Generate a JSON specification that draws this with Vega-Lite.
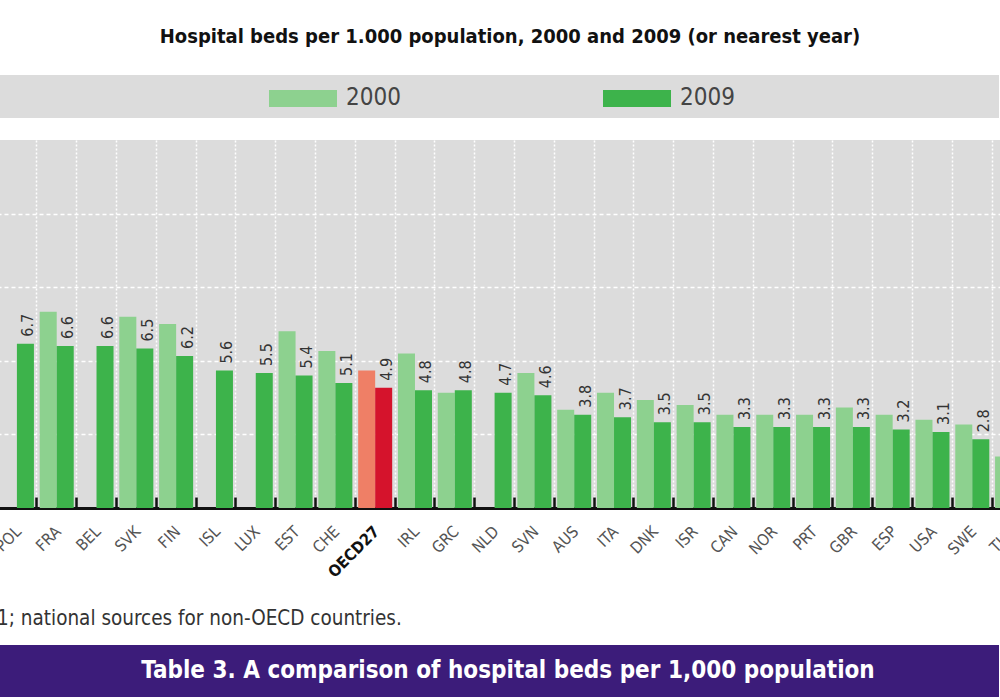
{
  "$schema": "https://vega.github.io/schema/vega-lite/v6.json",
  "autosize": {"type": "pad"},
  "padding": {"left": -8, "top": 27, "right": 0, "bottom": 0},
  "background": "white",
  "bounds": "flush",
  "spacing": 570,
  "datasets": {
    "beds": [
      {"country": "POL", "year": "2009", "series": "2009", "value": 6.7},
      {"country": "FRA", "year": "2000", "series": "2000", "value": 8.0},
      {"country": "FRA", "year": "2009", "series": "2009", "value": 6.6},
      {"country": "BEL", "year": "2009", "series": "2009", "value": 6.6},
      {"country": "SVK", "year": "2000", "series": "2000", "value": 7.8},
      {"country": "SVK", "year": "2009", "series": "2009", "value": 6.5},
      {"country": "FIN", "year": "2000", "series": "2000", "value": 7.5},
      {"country": "FIN", "year": "2009", "series": "2009", "value": 6.2},
      {"country": "ISL", "year": "2009", "series": "2009", "value": 5.6},
      {"country": "LUX", "year": "2009", "series": "2009", "value": 5.5},
      {"country": "EST", "year": "2000", "series": "2000", "value": 7.2},
      {"country": "EST", "year": "2009", "series": "2009", "value": 5.4},
      {"country": "CHE", "year": "2000", "series": "2000", "value": 6.4},
      {"country": "CHE", "year": "2009", "series": "2009", "value": 5.1},
      {"country": "OECD27", "year": "2000", "series": "OECD 2000", "value": 5.6},
      {"country": "OECD27", "year": "2009", "series": "OECD 2009", "value": 4.9},
      {"country": "IRL", "year": "2000", "series": "2000", "value": 6.3},
      {"country": "IRL", "year": "2009", "series": "2009", "value": 4.8},
      {"country": "GRC", "year": "2000", "series": "2000", "value": 4.7},
      {"country": "GRC", "year": "2009", "series": "2009", "value": 4.8},
      {"country": "NLD", "year": "2009", "series": "2009", "value": 4.7},
      {"country": "SVN", "year": "2000", "series": "2000", "value": 5.5},
      {"country": "SVN", "year": "2009", "series": "2009", "value": 4.6},
      {"country": "AUS", "year": "2000", "series": "2000", "value": 4.0},
      {"country": "AUS", "year": "2009", "series": "2009", "value": 3.8},
      {"country": "ITA", "year": "2000", "series": "2000", "value": 4.7},
      {"country": "ITA", "year": "2009", "series": "2009", "value": 3.7},
      {"country": "DNK", "year": "2000", "series": "2000", "value": 4.4},
      {"country": "DNK", "year": "2009", "series": "2009", "value": 3.5},
      {"country": "ISR", "year": "2000", "series": "2000", "value": 4.2},
      {"country": "ISR", "year": "2009", "series": "2009", "value": 3.5},
      {"country": "CAN", "year": "2000", "series": "2000", "value": 3.8},
      {"country": "CAN", "year": "2009", "series": "2009", "value": 3.3},
      {"country": "NOR", "year": "2000", "series": "2000", "value": 3.8},
      {"country": "NOR", "year": "2009", "series": "2009", "value": 3.3},
      {"country": "PRT", "year": "2000", "series": "2000", "value": 3.8},
      {"country": "PRT", "year": "2009", "series": "2009", "value": 3.3},
      {"country": "GBR", "year": "2000", "series": "2000", "value": 4.1},
      {"country": "GBR", "year": "2009", "series": "2009", "value": 3.3},
      {"country": "ESP", "year": "2000", "series": "2000", "value": 3.8},
      {"country": "ESP", "year": "2009", "series": "2009", "value": 3.2},
      {"country": "USA", "year": "2000", "series": "2000", "value": 3.6},
      {"country": "USA", "year": "2009", "series": "2009", "value": 3.1},
      {"country": "SWE", "year": "2000", "series": "2000", "value": 3.4},
      {"country": "SWE", "year": "2009", "series": "2009", "value": 2.8},
      {"country": "TUR", "year": "2000", "series": "2000", "value": 2.1}
    ],
    "legend": [{"series": "2000"}, {"series": "2009"}],
    "banner": [{"text": "Table 3. A comparison of hospital beds per 1,000 population"}]
  },
  "vconcat": [
    {
      "bounds": "flush",
      "spacing": 22,
      "vconcat": [
        {
          "width": 1002,
          "height": 43,
          "view": {"fill": "#dcdcdc", "stroke": null},
          "title": {
            "text": "Hospital beds per 1.000 population, 2000 and 2009 (or nearest year)",
            "anchor": "middle",
            "offset": 28,
            "dx": 12,
            "fontSize": 20,
            "fontWeight": "bold",
            "color": "#111111",
            "font": "DejaVu Sans Condensed"
          },
          "data": {"name": "legend"},
          "layer": [
            {
              "mark": {"type": "point", "shape": "M-1,-0.25H1V0.25H-1Z", "filled": true, "size": 4624, "opacity": 1, "xOffset": -28, "yOffset": 2},
              "encoding": {
                "x": {"field": "series", "type": "nominal", "scale": {"type": "point", "padding": 1}, "axis": null},
                "color": {
                  "field": "series", "type": "nominal",
                  "scale": {"domain": ["2000", "2009", "OECD 2000", "OECD 2009"], "range": ["#8dd18f", "#3db34b", "#ef7f66", "#d5132c"]},
                  "legend": null
                }
              }
            },
            {
              "mark": {"type": "text", "align": "left", "baseline": "middle", "dx": 15, "dy": 1, "fontSize": 24, "color": "#444444", "font": "DejaVu Sans Condensed"},
              "encoding": {
                "x": {"field": "series", "type": "nominal", "scale": {"type": "point", "padding": 1}, "axis": null},
                "text": {"field": "series"}
              }
            }
          ]
        },
        {
          "width": 1035,
          "height": 368,
          "view": {"fill": "#dcdcdc", "stroke": null},
          "data": {"name": "beds"},
          "encoding": {
            "x": {
              "field": "country", "type": "nominal",
              "scale": {
                "domain": ["POL", "FRA", "BEL", "SVK", "FIN", "ISL", "LUX", "EST", "CHE", "OECD27", "IRL", "GRC", "NLD", "SVN", "AUS", "ITA", "DNK", "ISR", "CAN", "NOR", "PRT", "GBR", "ESP", "USA", "SWE", "TUR"],
                "paddingInner": 0, "paddingOuter": 0
              },
              "axis": {
                "title": null,
                "labelAngle": -45,
                "bandPosition": 0,
                "labelOffset": -4,
                "tickSize": -11,
                "tickWidth": 2.5,
                "tickColor": "#111111",
                "domainColor": "#111111",
                "domainWidth": 3,
                "grid": true,
                "gridColor": "white",
                "gridDash": [2, 2],
                "gridWidth": 1.5,
                "labelFont": "DejaVu Sans Condensed",
                "labelFontSize": 16,
                "labelPadding": 26,
                "labelColor": {"condition": {"test": "datum.value === 'OECD27'", "value": "#111111"}, "value": "#555555"},
                "labelFontWeight": {"condition": {"test": "datum.value === 'OECD27'", "value": "bold"}, "value": "normal"}
              }
            },
            "xOffset": {"field": "year", "type": "nominal", "scale": {"domain": ["2000", "2009"], "paddingInner": 0, "paddingOuter": 0.17}},
            "y": {
              "field": "value", "type": "quantitative",
              "scale": {"domain": [0, 15], "nice": false},
              "axis": {"title": null, "grid": true, "values": [3, 6, 9, 12], "gridColor": "white", "gridDash": [4, 3], "gridWidth": 1.5, "labels": false, "ticks": false, "domain": false}
            }
          },
          "layer": [
            {
              "mark": {"type": "bar"},
              "encoding": {
                "color": {
                  "field": "series", "type": "nominal",
                  "scale": {"domain": ["2000", "2009", "OECD 2000", "OECD 2009"], "range": ["#8dd18f", "#3db34b", "#ef7f66", "#d5132c"]},
                  "legend": null
                }
              }
            },
            {
              "transform": [{"filter": "datum.year === '2009'"}],
              "mark": {"type": "text", "angle": 270, "align": "left", "baseline": "middle", "dx": 7, "dy": 3, "fontSize": 16, "color": "#333333", "font": "DejaVu Sans Condensed"},
              "encoding": {"text": {"field": "value", "type": "quantitative", "format": ".1f"}}
            }
          ]
        }
      ]
    },
    {
      "width": 1002,
      "height": 52,
      "view": {"fill": "#3c1c7a", "stroke": null},
      "title": {
        "text": "1; national sources for non-OECD countries.",
        "anchor": "start",
        "offset": 16,
        "fontSize": 20.5,
        "fontWeight": "normal",
        "color": "#333333",
        "font": "DejaVu Sans Condensed"
      },
      "data": {"name": "banner"},
      "mark": {"type": "text", "fontSize": 24, "fontWeight": "bold", "color": "white", "align": "center", "baseline": "middle", "font": "DejaVu Sans Condensed"},
      "encoding": {
        "text": {"field": "text"},
        "x": {"datum": 0.51, "type": "quantitative", "scale": {"domain": [0, 1]}, "axis": null}
      }
    }
  ],
  "config": {
    "view": {"stroke": null},
    "font": "DejaVu Sans Condensed"
  }
}
